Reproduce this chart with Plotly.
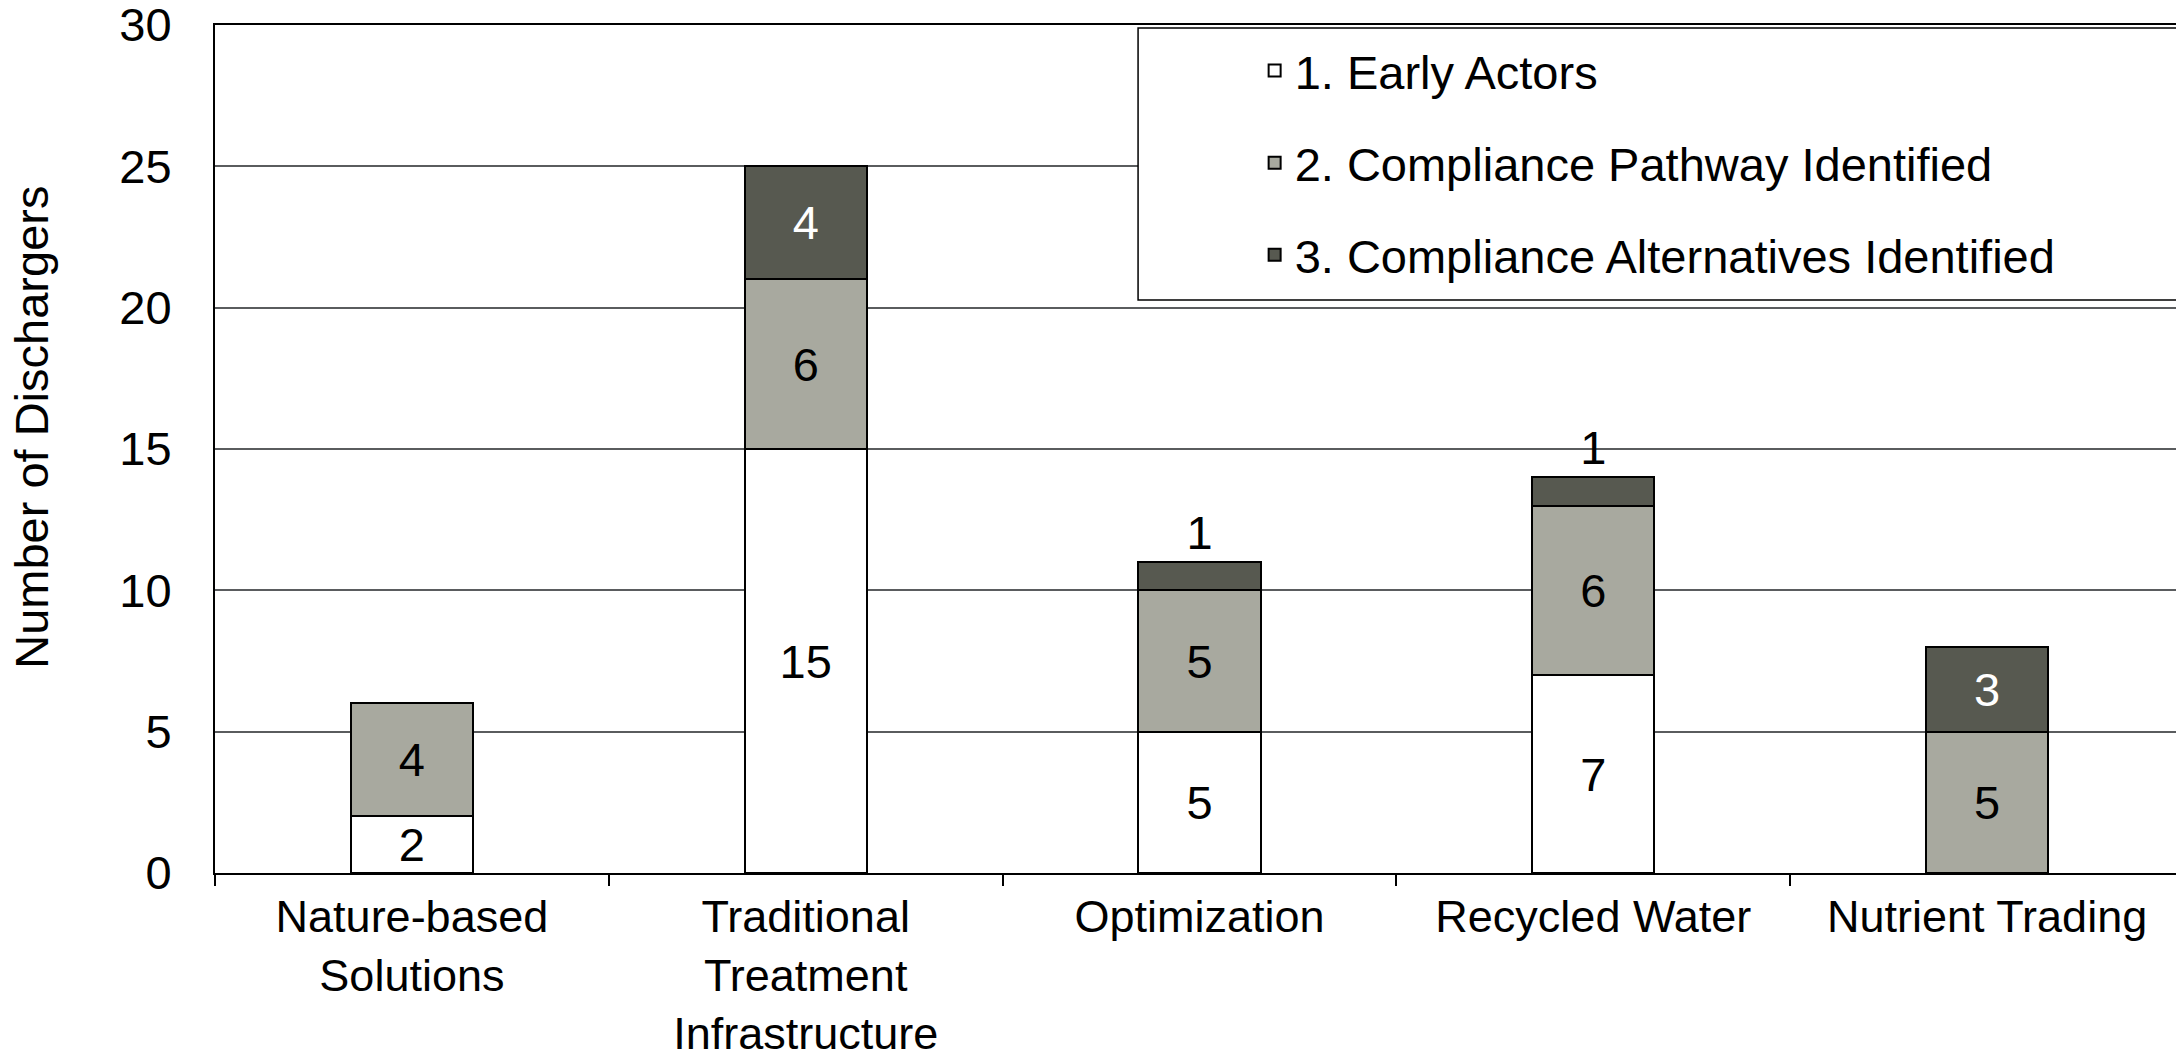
import plotly.graph_objects as go

# categories and counts
categories = ['Nature-based<br>Solutions', 'Traditional<br>Treatment<br>Infrastructure',
              'Optimization', 'Recycled Water', 'Nutrient Trading']
early_actors = [2, 15, 5, 7, 0]
pathway_identified = [4, 6, 5, 6, 5]
alternatives_identified = [0, 4, 1, 1, 3]
series_names = ['1. Early Actors', '2. Compliance Pathway Identified',
                '3. Compliance Alternatives Identified']
y_ticks = [0, 5, 10, 15, 20, 25, 30]

FONT = 'Liberation Sans, Arial, sans-serif'
FS = 47

fig = go.Figure()


def labels(vals):
    return [str(v) if v else '' for v in vals]


# early actors (white)
fig.add_trace(go.Bar(x=categories, y=early_actors, name=series_names[0],
                     marker=dict(color='white', line=dict(color='black', width=2)),
                     text=labels(early_actors), textposition='inside', insidetextanchor='middle',
                     textangle=0, constraintext='none',
                     textfont=dict(color='black', size=FS, family=FONT),
                     legendgroup='a', width=0.31))
# compliance pathway (light grey)
fig.add_trace(go.Bar(x=categories, y=pathway_identified, name=series_names[1],
                     marker=dict(color='#A8A99F', line=dict(color='black', width=2)),
                     text=labels(pathway_identified), textposition='inside', insidetextanchor='middle',
                     textangle=0, constraintext='none',
                     textfont=dict(color='black', size=FS, family=FONT),
                     legendgroup='b', width=0.31))
# compliance alternatives (dark grey); small segments get their label on top
alt_pos = ['outside' if v < 2 else 'inside' for v in alternatives_identified]
alt_col = ['black' if p == 'outside' else 'white' for p in alt_pos]
fig.add_trace(go.Bar(x=categories, y=alternatives_identified, name=series_names[2],
                     marker=dict(color='#575950', line=dict(color='black', width=2)),
                     text=labels(alternatives_identified), textposition=alt_pos,
                     insidetextanchor='middle', textangle=0, constraintext='none',
                     textfont=dict(color=alt_col, size=FS, family=FONT),
                     cliponaxis=False, legendgroup='c', width=0.31))

# legend frame
fig.add_shape(type='rect', xref='paper', yref='paper', x0=0.4688, x1=0.9975, y0=0.6757, y1=0.9965,
              line=dict(color='black', width=1.5), fillcolor='white', layer='above')

# y axis title
fig.add_annotation(text='Number of Dischargers', xref='paper', yref='paper', x=0, y=0.525,
                   xanchor='center', yanchor='middle', xshift=-183, textangle=-90,
                   showarrow=False, font=dict(size=FS, family=FONT, color='black'))

# page body adds an 8px offset, so the figure is 8px smaller than the window
fig.update_layout(
    width=2176, height=1054,
    barmode='stack',
    paper_bgcolor='white', plot_bgcolor='white',
    font=dict(family=FONT, size=FS, color='black'),
    margin=dict(l=207, r=0, t=17, b=189, autoexpand=False),
    showlegend=True,
    legend=dict(x=0.528, y=0.990, xanchor='left', yanchor='top',
                bgcolor='rgba(0,0,0,0)', borderwidth=0, tracegroupgap=28,
                traceorder='grouped', font=dict(size=FS, family=FONT)),
    xaxis=dict(showline=True, linecolor='black', linewidth=2, mirror=True, automargin=False,
               ticks='outside', tickson='boundaries', ticklen=11, tickwidth=2, tickcolor='black',
               ticklabelstandoff=3, tickfont=dict(size=45)),
    yaxis=dict(range=[0, 30], tickvals=y_ticks, showline=True, linecolor='black', linewidth=2,
               showgrid=True, gridcolor='#5A5C5E', gridwidth=1.5, zeroline=False, automargin=False,
               ticks='', ticklabelstandoff=32, ticklabeloverflow='allow', tickfont=dict(size=FS)),
)

fig.write_html("out.html")
